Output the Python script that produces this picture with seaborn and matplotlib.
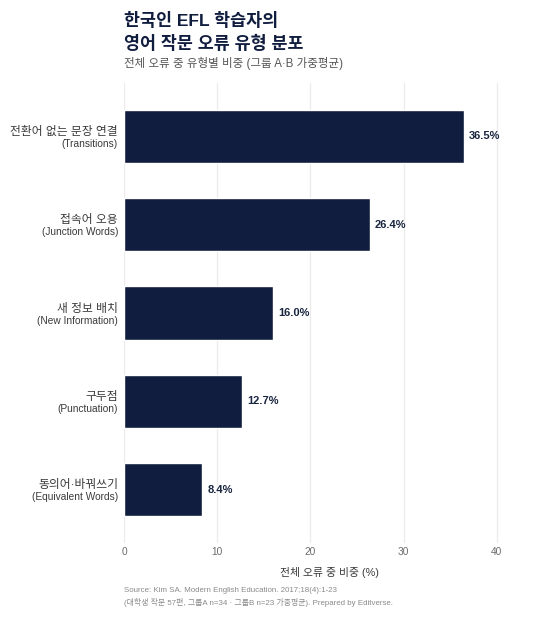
import matplotlib
matplotlib.use("Agg")
import matplotlib.pyplot as plt
import matplotlib.transforms as mtransforms
import seaborn as sns
import pandas as pd

categories_ko = ["전환어 없는 문장 연결", "접속어 오용", "새 정보 배치", "구두점", "동의어·바꿔쓰기"]
categories_en = ["(Transitions)", "(Junction Words)", "(New Information)", "(Punctuation)", "(Equivalent Words)"]
values = [36.5, 26.4, 16.0, 12.7, 8.4]
x_ticks = [0, 10, 20, 30, 40]

title = "한국인 EFL 학습자의\n영어 작문 오류 유형 분포"
subtitle = "전체 오류 중 유형별 비중 (그룹 A·B 가중평균)"
xlabel = "전체 오류 중 비중 (%)"
caption = ("Source: Kim SA. Modern English Education. 2017;18(4):1-23\n"
           "(대학생 작문 57편, 그룹A n=34 · 그룹B n=23 가중평균). Prepared by Editverse.")

sns.set_theme(style="white")
plt.rcParams['font.family'] = ['Liberation Sans', 'Noto Sans CJK KR', 'DejaVu Sans']

df = pd.DataFrame({"label": categories_en, "value": values})

W, H = 560, 620
fig = plt.figure(figsize=(W / 100, H / 100), dpi=100)
fig.patch.set_facecolor("white")
left, right, top, bottom = 124, 534, 83, 543
ax = fig.add_axes([left / W, 1 - bottom / H, (right - left) / W, (bottom - top) / H])

bar_color = "#111d3e"
sns.barplot(data=df, x="value", y="label", orient="h", color=bar_color,
            width=0.6, ax=ax, saturation=1)

ax.set_xlim(0, 44)
ax.set_ylim(4.6, -0.6)
ax.set_xticks(x_ticks)
ax.set_xticklabels([str(t) for t in x_ticks])
ax.grid(axis="x", color="#ebebeb", linewidth=0.9)
ax.grid(axis="y", visible=False)
ax.set_axisbelow(True)
for s in ax.spines.values():
    s.set_visible(False)
ax.tick_params(axis="both", length=0)
ax.set_yticklabels([])
ax.tick_params(axis="x", pad=3, labelsize=7.3, labelcolor="#6b6b6b")
ax.set_ylabel("")
ax.set_xlabel(xlabel, fontsize=7.8, color="#3a3a3a", labelpad=7)

# two-line category labels (Korean above, English below)
yt = ax.get_yaxis_transform()
for i, (ko, en) in enumerate(zip(categories_ko, categories_en)):
    tr_ko = yt + mtransforms.ScaledTranslation(-6 / 100, 4.5 / 100, fig.dpi_scale_trans)
    tr_en = yt + mtransforms.ScaledTranslation(-6 / 100, -7.5 / 100, fig.dpi_scale_trans)
    ax.text(0, i, ko, transform=tr_ko, ha="right", va="center", fontsize=8.5,
            color="#3a3a3a")
    ax.text(0, i, en, transform=tr_en, ha="right", va="center", fontsize=7.3,
            color="#3a3a3a")

for c in ax.containers:
    ax.bar_label(c, labels=[f"{v:.1f}%" for v in values], padding=3.5,
                 fontsize=8, fontweight="bold", color="#1a2540")

fig.text(left / W, 1 - 32 / H, title, ha="left", va="center", fontsize=12.5,
         fontweight="bold", color="#111d3e", linespacing=1.38)
fig.text(left / W, 1 - 63 / H, subtitle, ha="left", va="center", fontsize=8.3,
         color="#555555")
fig.text(left / W, 1 - 597 / H, caption, ha="left", va="center", fontsize=5.7,
         color="#8a8a8a", linespacing=1.55)

fig.savefig("out.png", dpi=100, facecolor="white")
